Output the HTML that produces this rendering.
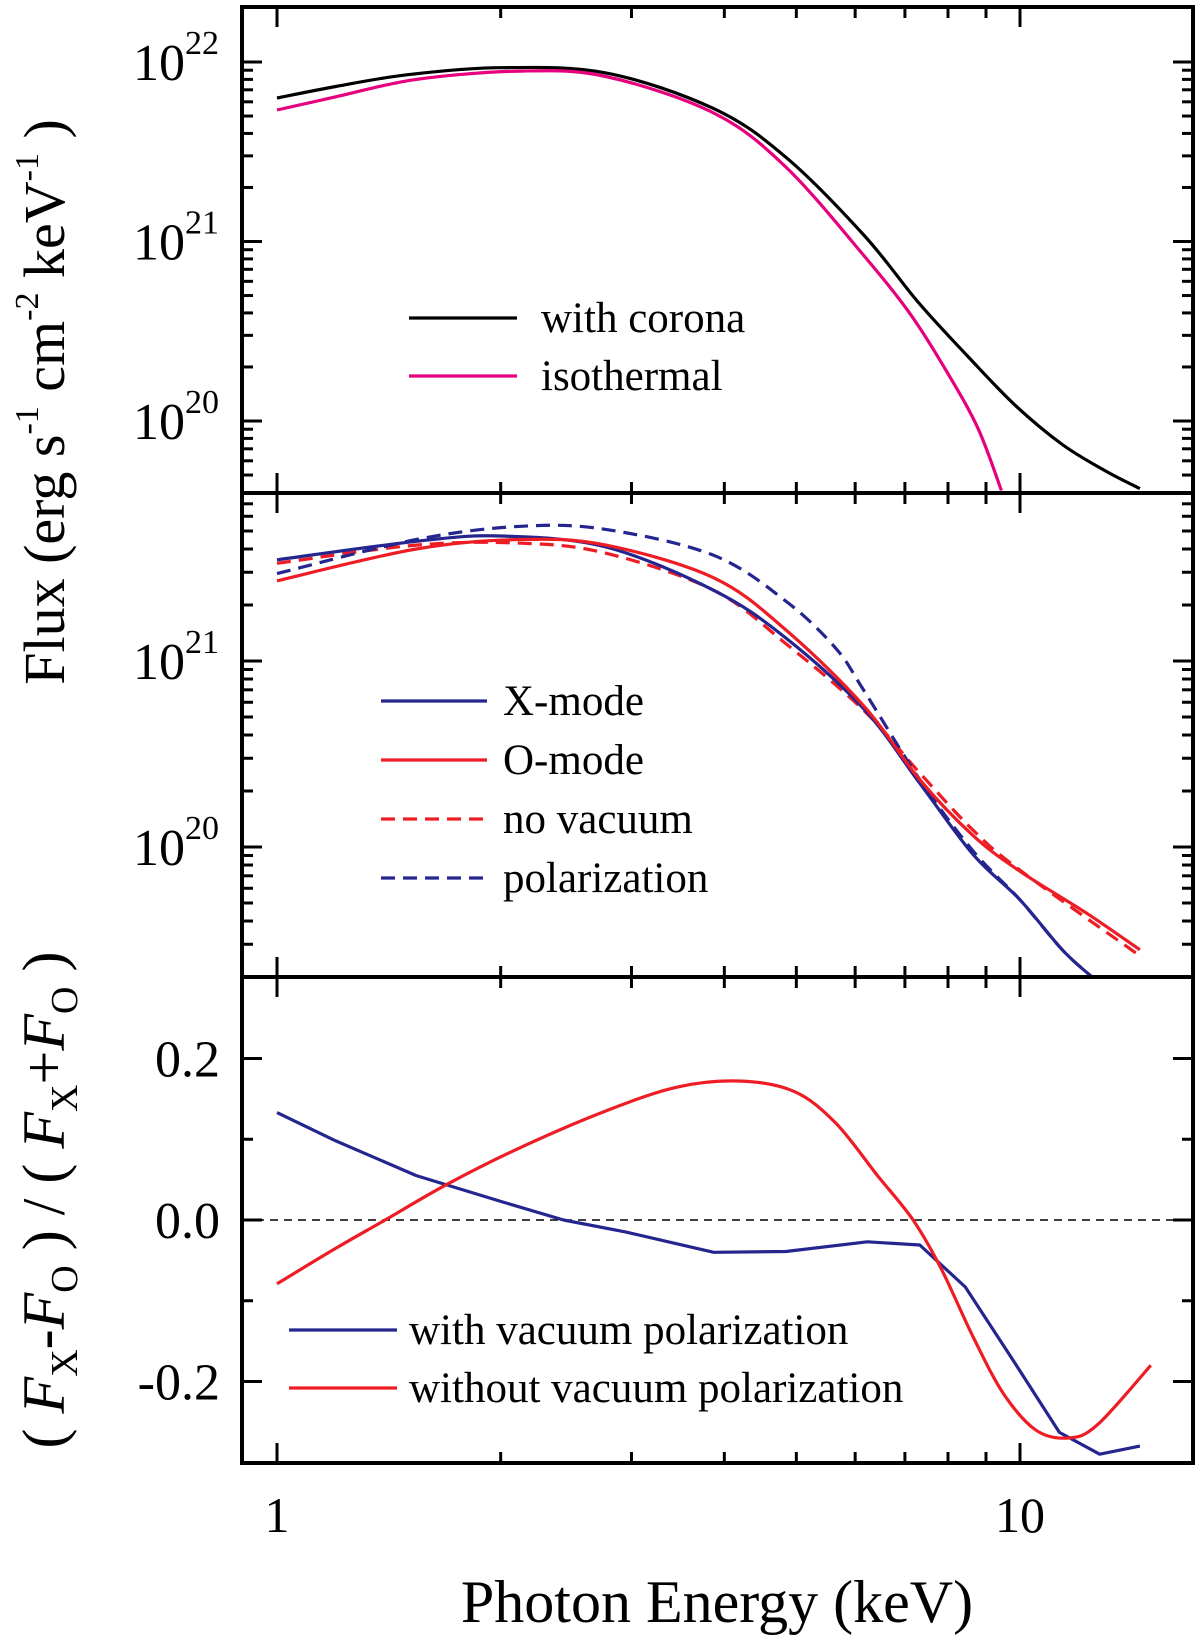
<!DOCTYPE html>
<html><head><meta charset="utf-8"><style>
html,body{margin:0;padding:0;background:#fff;}
svg{display:block;}
text{font-family:"Liberation Serif",serif;fill:#000;}
</style></head><body>
<svg id="chart" width="1200" height="1638" viewBox="0 0 1200 1638" xmlns="http://www.w3.org/2000/svg">
<defs>
<clipPath id="c1"><rect x="242" y="7" width="951" height="486"/></clipPath>
<clipPath id="c2"><rect x="242" y="493" width="951" height="484"/></clipPath>
<clipPath id="c3"><rect x="242" y="977" width="951" height="486"/></clipPath>
</defs>
<g id="marks"></g>
<g id="axes"></g>
</svg>
<script>
// ---------- data ----------
const cE = [1.0,1.2,1.5,2.0,2.77,3.87,4.84,6.17,7.29,8.5,9.84,11.4,13.0,14.5];
const cF = [6.3e21,7.3e21,8.5e21,9.3e21,8.7e21,5.5e21,2.95e21,1.08e21,4.6e20,2.3e20,1.23e20,7.4e19,5.3e19,4.2e19];
const iE = [1.0,1.2,1.54,2.13,2.77,3.87,4.84,6.17,7.1,7.96,8.78,9.44];
const iF = [5.4e21,6.4e21,8.0e21,8.9e21,8.3e21,5.2e21,2.6e21,8.3e20,4.0e20,1.9e20,9.1e19,4.1e19];
const xE = [1.0,1.54,2.0,2.77,3.87,4.84,6.17,7.33,8.65,10.0,11.4,12.5];
const xF = [3.5e21,4.4e21,4.7e21,4.1e21,2.4e21,1.33e21,5.5e20,2.2e20,9.1e19,5.2e19,2.8e19,2.0e19];
const oE = [1.0,1.54,2.13,2.77,3.87,4.84,6.17,7.33,8.65,10.0,12.3,14.5];
const oF = [2.7e21,4.0e21,4.5e21,4.2e21,2.8e21,1.47e21,5.7e20,2.3e20,1.15e20,7.4e19,4.4e19,2.8e19];
const nvE = [1.0,1.54,2.13,2.77,3.87,4.84,6.17,7.33,8.65,10.0,14.5];
const nvF = [3.35e21,4.2e21,4.3e21,3.8e21,2.4e21,1.24e21,5.4e20,2.5e20,1.23e20,7.5e19,2.6e19];
const pE = [1.0,1.54,2.13,2.77,3.87,4.84,5.65,6.17,7.33,8.65,10.0,11.4,12.5];
const pF = [2.95e21,4.5e21,5.3e21,5.1e21,3.7e21,2.1e21,1.17e21,6.9e20,2.3e20,9.5e19,5.2e19,2.8e19,2.0e19];
const dBE = [1.0,1.2,1.54,2.0,2.43,2.95,3.87,4.84,6.23,7.33,8.44,9.84,11.3,12.8,14.5];
const dBV = [0.133,0.098,0.055,0.023,0.0,-0.015,-0.040,-0.039,-0.027,-0.031,-0.083,-0.177,-0.263,-0.29,-0.28];
const dRE = [1.0,1.2,1.398,1.70,2.13,2.77,3.47,4.22,4.97,5.65,6.43,7.18,7.83,8.65,9.50,10.5,11.6,12.7,15.0];
const dRV = [-0.079,-0.035,0.0,0.045,0.09,0.135,0.165,0.172,0.159,0.12,0.055,0.0,-0.06,-0.145,-0.215,-0.26,-0.27,-0.254,-0.18];
const xTicks = [1,10];
const xTickLabels = ["1","10"];
const topDecades = [20,21,22];
const midDecades = [20,21];
const bottomTicks = [-0.2,0.0,0.2];
const bottomTickLabels = ["-0.2","0.0","0.2"];

// ---------- scales ----------
const L=242,R=1193;
const xs = e => 277 + 743*Math.log10(e);
const y1 = f => 62 + 179.5*(22 - Math.log10(f));
const y2 = f => 661 + 186*(21 - Math.log10(f));
const y3 = v => 1220 - 807.5*v;
const NS="http://www.w3.org/2000/svg";
const marks=document.getElementById('marks'), axes=document.getElementById('axes');
function el(tag,attrs,parent){const e=document.createElementNS(NS,tag);for(const k in attrs)e.setAttribute(k,attrs[k]);parent.appendChild(e);return e;}
function smoothPath(P){
  let d='M'+P[0][0].toFixed(1)+','+P[0][1].toFixed(1);
  for(let i=0;i<P.length-1;i++){
    const p0=P[Math.max(0,i-1)],p1=P[i],p2=P[i+1],p3=P[Math.min(P.length-1,i+2)];
    const c1x=p1[0]+(p2[0]-p0[0])/6,c1y=p1[1]+(p2[1]-p0[1])/6;
    const c2x=p2[0]-(p3[0]-p1[0])/6,c2y=p2[1]-(p3[1]-p1[1])/6;
    d+=' C'+c1x.toFixed(1)+','+c1y.toFixed(1)+' '+c2x.toFixed(1)+','+c2y.toFixed(1)+' '+p2[0].toFixed(1)+','+p2[1].toFixed(1);
  }
  return d;
}
function linePath(P){return P.map((p,i)=>(i?'L':'M')+p[0].toFixed(1)+','+p[1].toFixed(1)).join(' ');}
function series(E,V,ys,clip,color,dash,name,straight){
  const P=E.map((e,i)=>[xs(e),ys(V[i])]);
  const p=el('path',{d:straight?linePath(P):smoothPath(P),fill:'none',stroke:color,'stroke-width':3.2,'stroke-linejoin':'round','clip-path':'url(#'+clip+')'},marks);
  if(dash)p.setAttribute('stroke-dasharray',dash);
  
  
}
const BLUE='#25258f',RED='#ee1c24',MAG='#e6007e';
series(cE,cF,y1,'c1','#000',null,'with-corona-line');
series(iE,iF,y1,'c1',MAG,null,'isothermal-line');
series(nvE,nvF,y2,'c2',RED,'14 8','no-vacuum-red-dashed-line');
series(pE,pF,y2,'c2',BLUE,'14 8','polarization-blue-dashed-line');
series(xE,xF,y2,'c2',BLUE,null,'x-mode-line');
series(oE,oF,y2,'c2',RED,null,'o-mode-line');
const z=el('line',{x1:L,x2:R,y1:y3(0),y2:y3(0),stroke:'#000','stroke-width':1.5,'stroke-dasharray':'8 6'},marks);


series(dBE,dBV,y3,'c3',BLUE,null,'with-vacuum-polarization-line',true);
series(dRE,dRV,y3,'c3',RED,null,'without-vacuum-polarization-line');

// ---------- axes ----------
function ln(x1,y1_,x2,y2_,w,name){const l=el('line',{x1:x1,y1:y1_,x2:x2,y2:y2_,stroke:'#000','stroke-width':w},axes);return l;}
function txt(x,y,s,size,anchor,name){const t=el('text',{x:x,y:y,'font-size':size,'text-anchor':anchor||'start'},axes);t.textContent=s;return t;}
const fr=el('rect',{x:L,y:7,width:R-L,height:1463-7,fill:'none',stroke:'#000','stroke-width':4},axes);


ln(L,493,R,493,4,'panel-divider-top');
ln(L,977,R,977,4,'panel-divider-bottom');
for(let dec=0;dec<2;dec++){for(let m=1;m<10;m++){const e=m*Math.pow(10,dec);if(e>17)continue;const x=xs(e);const len=m===1?20:11;
  ln(x,7,x,7+len,3,'x-tick-top');
  ln(x,493-len,x,493+len,3,'x-tick-divider');
  ln(x,977-len,x,977+len,3,'x-tick-divider');
  ln(x,1463-len,x,1463,3,'x-tick-bottom');}}
xTicks.forEach((v,i)=>txt(xs(v),1532,xTickLabels[i],50,'middle','x-tick-label'));
function logTicks(ys,top,bot,decs,name){
  for(let d=19;d<=22;d++){for(let m=1;m<10;m++){const y=ys(m*Math.pow(10,d));if(y<top+2||y>bot-2)continue;const len=m===1?20:11;
    ln(L,y,L+len,y,3,name+'-tick-left');ln(R-len,y,R,y,3,name+'-tick-right');}}
  decs.forEach(d=>{const y=ys(Math.pow(10,d));const t=txt(176,y+18,'10',52,'middle',name+'-tick-label');
    const s=el('tspan',{dx:0,dy:-26,'font-size':34},t);s.textContent=String(d);});
}
logTicks(y1,7,493,topDecades,'top-y');
logTicks(y2,493,977,midDecades,'mid-y');
[-0.3,-0.1,0.1,0.3].forEach(v=>{const y=y3(v);if(y<980||y>1460)return;ln(L,y,L+11,y,3,'bottom-y-minor-tick');ln(R-11,y,R,y,3,'bottom-y-minor-tick');});
bottomTicks.forEach((v,i)=>{const y=y3(v);ln(L,y,L+20,y,3,'bottom-y-tick');ln(R-20,y,R,y,3,'bottom-y-tick');txt(220,y+18,bottomTickLabels[i],52,'end','bottom-y-tick-label');});
txt(717,1622,'Photon Energy (keV)',60,'middle','x-axis-title');
</script>
<svg style="position:absolute;left:0;top:0" width="1200" height="1638">
<text transform="translate(64,402) rotate(-90)" text-anchor="middle" font-size="58" style="font-family:'Liberation Serif',serif">Flux (erg s<tspan font-size="34" dy="-26">-1</tspan><tspan dy="26"> cm</tspan><tspan font-size="34" dy="-26">-2</tspan><tspan dy="26"> keV</tspan><tspan font-size="34" dy="-26">-1</tspan><tspan dy="26"> )</tspan></text>
<text transform="translate(64,1200) rotate(-90)" text-anchor="middle" font-size="60" style="font-family:'Liberation Serif',serif">( <tspan font-style="italic">F</tspan><tspan font-size="38" dy="13">X</tspan><tspan dy="-13">-</tspan><tspan font-style="italic">F</tspan><tspan font-size="38" dy="13">O</tspan><tspan dy="-13"> ) / ( </tspan><tspan font-style="italic">F</tspan><tspan font-size="38" dy="13">X</tspan><tspan dy="-13">+</tspan><tspan font-style="italic">F</tspan><tspan font-size="38" dy="13">O</tspan><tspan dy="-13"> )</tspan></text>
<g font-size="43" style="font-family:'Liberation Serif',serif">
<line x1="409" y1="318" x2="517" y2="318" stroke="#000" stroke-width="3.2"/>
<text x="541" y="332">with corona</text>
<line x1="409" y1="376" x2="517" y2="376" stroke="#e6007e" stroke-width="3.2"/>
<text x="541" y="390">isothermal</text>
</g>
<g font-size="43" style="font-family:'Liberation Serif',serif">
<line x1="381" y1="701" x2="487" y2="701" stroke="#25258f" stroke-width="3.2"/>
<text x="503" y="715">X-mode</text>
<line x1="381" y1="760" x2="487" y2="760" stroke="#ee1c24" stroke-width="3.2"/>
<text x="503" y="774">O-mode</text>
<line x1="381" y1="819" x2="487" y2="819" stroke="#ee1c24" stroke-width="3.2" stroke-dasharray="14 8"/>
<text x="503" y="833">no vacuum</text>
<line x1="381" y1="878" x2="487" y2="878" stroke="#25258f" stroke-width="3.2" stroke-dasharray="14 8"/>
<text x="503" y="892">polarization</text>
</g>
<g font-size="43" style="font-family:'Liberation Serif',serif">
<line x1="289" y1="1330" x2="397" y2="1330" stroke="#25258f" stroke-width="3.2"/>
<text x="409" y="1344">with vacuum polarization</text>
<line x1="289" y1="1388" x2="397" y2="1388" stroke="#ee1c24" stroke-width="3.2"/>
<text x="409" y="1402">without vacuum polarization</text>
</g>
</svg>
</body></html>
